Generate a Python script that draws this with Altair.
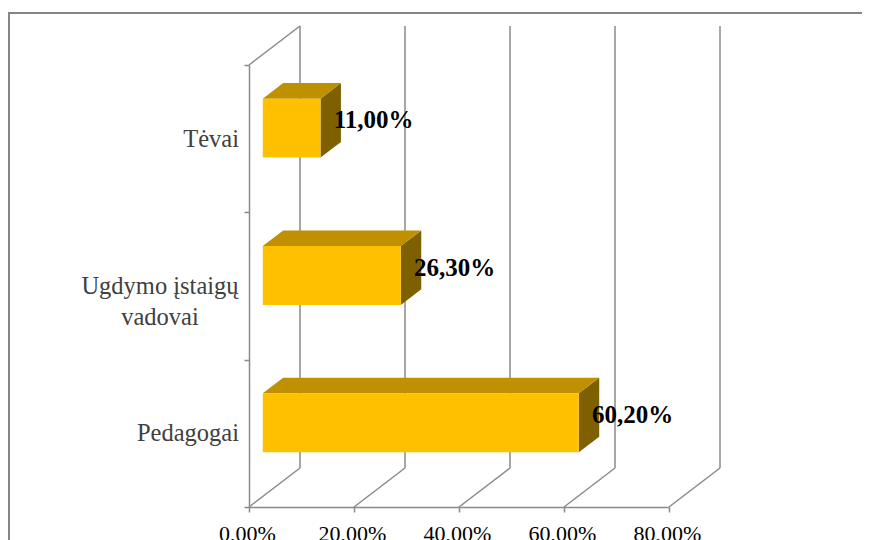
import altair as alt
import pandas as pd

# ---- data ----
categories = ["Pedagogai", "Ugdymo įstaigų\nvadovai", "Tėvai"]
values = [60.2, 26.3, 11.0]          # percent
x_ticks = [0, 20, 40, 60, 80]
cat_bounds = [0, 1, 2, 3]

# ---- projection / style parameters ----
W, H = 420, 442
X_MAX = 80
N = len(categories)
DX = 51 * X_MAX / W        # depth offset in x-units (%)
DY = 39 * N / H            # depth offset in y-units (bands)
F0, F1 = 0.27, 0.67        # bar front/back depth fractions
FM = (F0 + F1) / 2
LO, HI = 0.3, 0.7          # bar thickness within a band
GRID = "#8a8a8a"
FRONT, TOP, SIDE = "#FFC000", "#BF9000", "#7F6000"
FONT = "Liberation Serif"

xs = alt.Scale(domain=[0, X_MAX], nice=False, zero=False)
ys = alt.Scale(domain=[0, N], nice=False, zero=False)
ax_x = alt.Axis(values=x_ticks, grid=False, domainColor=GRID, domainWidth=1.5,
                tickColor=GRID, tickWidth=1.5, tickSize=5,
                labelFont=FONT, labelFontSize=22, labelColor="#000000",
                labelPadding=11, labelOffset=-2, labelFlush=False, labelOverlap=False,
                labelExpr="replace(format(datum.value/100, '.2%'), '.', ',')")
ax_y = alt.Axis(values=cat_bounds, grid=False, labels=False, domainColor=GRID,
                domainWidth=1.5, tickColor=GRID, tickWidth=1.5, tickSize=5)


def X(f):
    return alt.X(f, scale=xs, axis=ax_x, title=None)


def Y(f):
    return alt.Y(f, scale=ys, axis=ax_y, title=None)


# walls / grid
grid_rows = []
for t in x_ticks:
    grid_rows.append(dict(x=t + DX, x2=t + DX, y=DY, y2=N + DY))   # back wall verticals
    grid_rows.append(dict(x=t, x2=t + DX, y=0, y2=DY))             # floor diagonals
grid_rows.append(dict(x=0, x2=DX, y=N, y2=N + DY))                 # side wall top edge
grid_df = pd.DataFrame(grid_rows)

front_rows, lab_rows = [], []
for i, (c, v) in enumerate(zip(categories, values)):
    front_rows.append(dict(cat=c, x=F0 * DX, x2=v + F0 * DX,
                           y=i + LO + F0 * DY, y2=i + HI + F0 * DY))
    lab_rows.append(dict(cat=c, x=v + FM * DX, y=i + 0.5 + FM * DY,
                         label=f"{v:.2f}%".replace(".", ",")))
front_df = pd.DataFrame(front_rows)
lab_df = pd.DataFrame(lab_rows)
cat_df = pd.DataFrame(dict(cat=categories, y=[i + 0.5 for i in range(N)],
                           multi=["\n" in c for c in categories]))

axis_base = alt.Chart(pd.DataFrame(dict(x=[0.0], y=[0.0]))).mark_point(opacity=0).encode(
    x=X("x:Q"), y=Y("y:Q"))

grid = alt.Chart(grid_df).mark_rule(color=GRID, strokeWidth=1.5).encode(
    x=X("x:Q"), x2="x2:Q", y=Y("y:Q"), y2="y2:Q")

faces = []
for i, (c, v) in enumerate(zip(categories, values)):
    side_df = pd.DataFrame(dict(
        x=[v + F0 * DX, v + F1 * DX],
        y=[i + LO + F0 * DY, i + LO + F1 * DY],
        y2=[i + HI + F0 * DY, i + HI + F1 * DY]))
    top_df = pd.DataFrame(dict(
        x=[F0 * DX, F1 * DX, v + F0 * DX, v + F1 * DX],
        y=[i + HI + F0 * DY, i + HI + F0 * DY, i + HI + F0 * DY, i + HI + F1 * DY],
        y2=[i + HI + F0 * DY, i + HI + F1 * DY, i + HI + F1 * DY, i + HI + F1 * DY]))
    faces.append(alt.Chart(side_df).mark_area(color=SIDE).encode(
        x=X("x:Q"), y=Y("y:Q"), y2="y2:Q"))
    faces.append(alt.Chart(top_df).mark_area(color=TOP).encode(
        x=X("x:Q"), y=Y("y:Q"), y2="y2:Q"))

front = alt.Chart(front_df).mark_rect(color=FRONT).encode(
    x=X("x:Q"), x2="x2:Q", y=Y("y:Q"), y2="y2:Q")

labels = alt.Chart(lab_df).mark_text(
    font=FONT, fontSize=25, fontWeight="bold", color="#000000",
    align="left", baseline="middle", dx=3).encode(
    x=X("x:Q"), y=Y("y:Q"), text="label:N")

cat_single = alt.Chart(cat_df).transform_filter("!datum.multi").mark_text(
    font=FONT, fontSize=24.5, color="#404040", align="right", baseline="middle",
    dx=-10, dy=1).encode(
    x=alt.value(0), y=Y("y:Q"), text="cat:N")

cat_multi = alt.Chart(cat_df).transform_filter("datum.multi").mark_text(
    font=FONT, fontSize=24.5, color="#404040", align="center", baseline="middle",
    lineBreak="\n", lineHeight=31, dx=-89, dy=1).encode(
    x=alt.value(0), y=Y("y:Q"), text="cat:N")

frame_df = pd.DataFrame(dict(k=[0]))
frame_top = alt.Chart(frame_df).mark_rule(color="#868686", strokeWidth=2).encode(
    x=alt.value(-241), x2=alt.value(640), y=alt.value(-52))
frame_left = alt.Chart(frame_df).mark_rule(color="#868686", strokeWidth=2).encode(
    x=alt.value(-240), y=alt.value(-53), y2=alt.value(480))

chart = alt.layer(
    axis_base, grid, *faces, front, labels, cat_single, cat_multi, frame_top, frame_left
).properties(
    width=W, height=H,
    autosize=alt.AutoSizeParams(type="none"),
    padding={"left": 241, "top": 57, "right": 193, "bottom": 33},
).configure_view(stroke=None)

chart.save("out.html", embed_options={"renderer": "svg", "actions": False})
